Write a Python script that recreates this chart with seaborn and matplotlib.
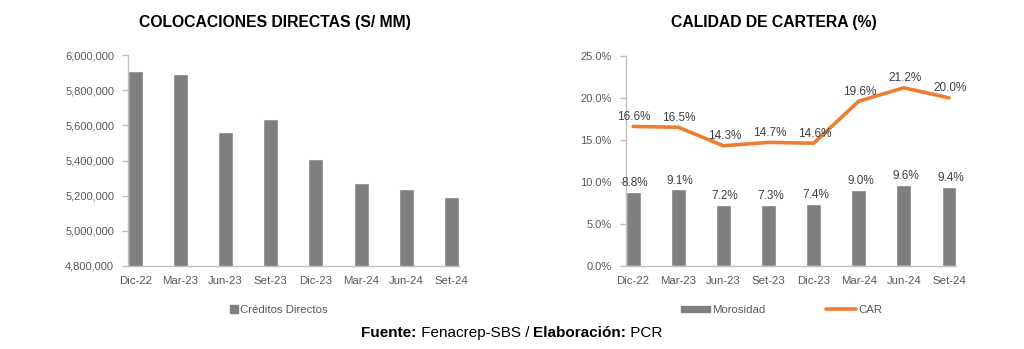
import numpy as np
import pandas as pd
import matplotlib
matplotlib.use("Agg")
import matplotlib.pyplot as plt
import seaborn as sns
from matplotlib.patches import Patch
from matplotlib.lines import Line2D
from matplotlib.ticker import FuncFormatter, MultipleLocator

periods = ["Dic-22", "Mar-23", "Jun-23", "Set-23", "Dic-23", "Mar-24", "Jun-24", "Set-24"]
creditos = [5912000, 5892000, 5560000, 5635000, 5408000, 5273000, 5238000, 5193000]
morosidad = [8.8, 9.1, 7.2, 7.3, 7.4, 9.0, 9.6, 9.4]
car = [16.6, 16.5, 14.3, 14.7, 14.6, 19.6, 21.2, 20.0]

sns.set_theme(style="white")
plt.rcParams["font.family"] = ["Liberation Sans", "DejaVu Sans"]

GRAY_BAR = "#7f7f7f"
ORANGE = "#ed7d31"
TXT = "#595959"
SPINE = "#bfbfbf"
W = 0.33

fig = plt.figure(figsize=(10.24, 3.49), dpi=100)
ax1 = fig.add_axes([0.125, 0.238, 0.323, 0.604])
ax2 = fig.add_axes([0.611, 0.238, 0.323, 0.602])

df = pd.DataFrame({"periodo": periods, "creditos": creditos,
                   "morosidad": morosidad, "car": car})

# Left chart
sns.barplot(data=df, x="periodo", y="creditos", color=GRAY_BAR, width=W,
            saturation=1, ax=ax1)
ax1.set_ylim(4800000, 6000000)
ax1.yaxis.set_major_locator(MultipleLocator(200000))
ax1.yaxis.set_major_formatter(FuncFormatter(lambda v, p: f"{int(v):,}"))

# Right chart
sns.barplot(data=df, x="periodo", y="morosidad", color=GRAY_BAR, width=W,
            saturation=1, ax=ax2)
sns.lineplot(x=np.arange(len(periods)), y=df["car"], color=ORANGE, lw=2.6,
             ax=ax2, legend=False)
ax2.set_ylim(0, 25)
ax2.yaxis.set_major_locator(MultipleLocator(5))
ax2.yaxis.set_major_formatter(FuncFormatter(lambda v, p: f"{v:.1f}%"))

for i, v in enumerate(morosidad):
    ax2.text(i + 0.04, v + 0.35, f"{v:.1f}%", ha="center", va="bottom",
             fontsize=8.5, color="#404040")
for i, v in enumerate(car):
    ax2.text(i + 0.02, v + 0.4, f"{v:.1f}%", ha="center", va="bottom",
             fontsize=8.5, color="#404040")

for ax in (ax1, ax2):
    ax.set_xlim(-W / 2, len(periods) - 1 + W / 2)
    ax.set_xlabel("")
    ax.set_ylabel("")
    for s in ("top", "right"):
        ax.spines[s].set_visible(False)
    for s in ("left", "bottom"):
        ax.spines[s].set_color(SPINE)
        ax.spines[s].set_linewidth(1.0)
    ax.set_xticks(np.arange(len(periods)))
    ax.set_xticklabels(periods)
    ax.set_xticks(np.arange(len(periods)) - W / 2, minor=True)
    ax.tick_params(axis="x", which="major", length=0, pad=7, labelsize=8.2, labelcolor=TXT)
    ax.tick_params(axis="x", which="minor", length=4, color=SPINE, width=1, direction="out")
    ax.tick_params(axis="y", length=4, color=SPINE, width=1, direction="out",
                   labelsize=8, labelcolor=TXT, pad=6, left=True)
    ax.grid(False)

fig.text(0.2685, 0.935, "COLOCACIONES DIRECTAS (S/ MM)", ha="center", va="center",
         fontsize=11.3, fontweight="bold", color="black")
fig.text(0.7555, 0.935, "CALIDAD DE CARTERA (%)", ha="center", va="center",
         fontsize=11.3, fontweight="bold", color="black")

leg1 = fig.legend(handles=[Patch(color=GRAY_BAR, label="Créditos Directos")],
                  loc="center", bbox_to_anchor=(0.272, 0.112), frameon=False,
                  fontsize=8.2, handlelength=0.7, handleheight=0.7, handletextpad=0.2,
                  labelcolor=TXT)
leg2 = fig.legend(handles=[Patch(color=GRAY_BAR, label="Morosidad"),
                           Line2D([], [], color=ORANGE, lw=2.6, label="CAR")],
                  loc="center", bbox_to_anchor=(0.763, 0.112), ncol=2, frameon=False,
                  fontsize=8.2, handlelength=2.6, handleheight=0.5, handletextpad=0.2,
                  columnspacing=5.3, labelcolor=TXT)

# footer with mixed bold
footer_parts = [("Fuente:", "bold"), (" Fenacrep-SBS / ", "normal"),
                ("Elaboración:", "bold"), (" PCR", "normal")]
fig.canvas.draw()
r = fig.canvas.get_renderer()
texts = []
total = 0
for s, wgt in footer_parts:
    t = fig.text(0, 0.045, s, fontsize=11, fontweight=wgt, color="black",
                 va="center", ha="left")
    bb = t.get_window_extent(renderer=r)
    texts.append((t, bb.width))
    total += bb.width
x0 = (fig.bbox.width - total) / 2
for t, wdt in texts:
    t.set_x(x0 / fig.bbox.width)
    x0 += wdt

fig.savefig("out.png", dpi=100)
